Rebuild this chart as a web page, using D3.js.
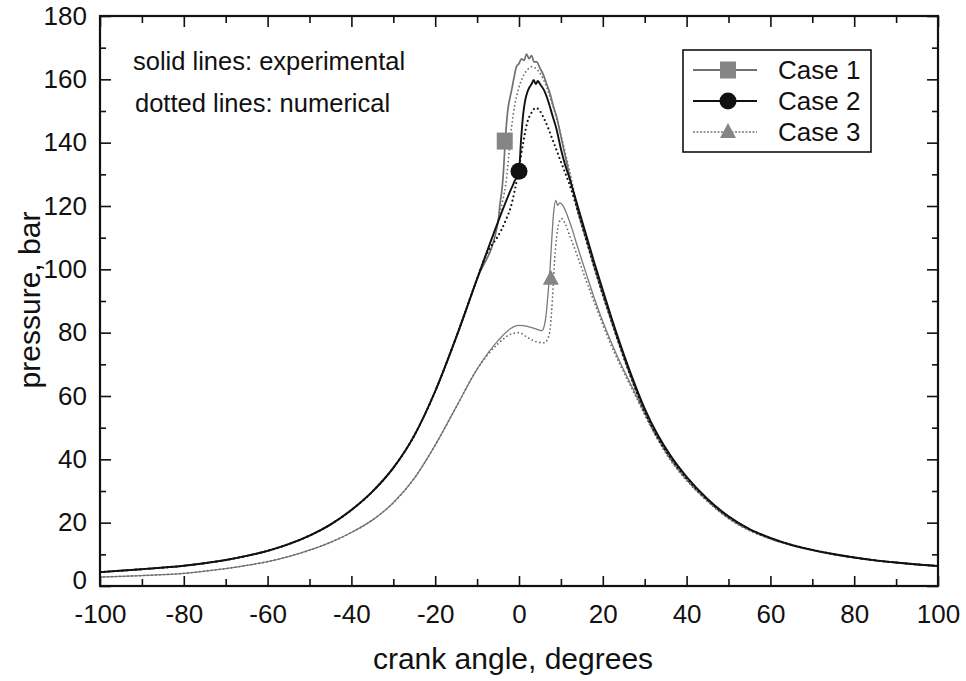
<!DOCTYPE html>
<html>
<head>
<meta charset="utf-8">
<script src="https://cdn.jsdelivr.net/npm/d3@7"></script>
<style>
body{margin:0;background:#fff;}
svg{display:block;font-family:"Liberation Sans",Arial,Helvetica,sans-serif;}
</style>
</head>
<body>
<div id="okvir"></div>
<script>
// ---- podaci (ocitani sa slike) ----
// kompresija, zajednicka za case 1 i case 2 (do -10 stupnjeva)
const kompresija12 = [[-100,4.4],[-90,5.3],[-80,6.4],[-75,7.2],[-70,8.2],[-65,9.5],[-60,11.1],[-55,13.2],[-50,15.9],[-45,19.4],[-40,24],[-35,29.8],[-30,37.3],[-25,47.5],[-20,61.5],[-15,78.5],[-10,97]];
// kompresija za case 3
const kompresija3 = [[-100,2.8],[-90,3.3],[-80,4.0],[-75,4.7],[-70,5.5],[-65,6.5],[-60,7.7],[-55,9.3],[-50,11.3],[-45,13.8],[-40,16.9],[-35,20.8],[-30,26.3],[-25,34],[-20,44.5],[-15,56.5],[-10,68.5]];

const case1Exp = [[-5,115],[-4.5,121],[-4,126],[-3.7,131],[-3.4,138],[-3.1,144],[-2.6,151],[-2.1,154.5],[-1.7,157],[-1.2,160.5],[-0.6,164],[0,165],[0.6,166.5],[1.2,166],[1.8,168],[2.4,166.5],[3,167.5],[3.6,165.5],[4.2,165.5],[5,163.5],[5.8,161.5],[6.6,158.5],[7.4,155.5],[8.2,151.5],[9,148],[10,142],[11,136],[12,130],[14,118.5],[16,109.5],[18,100.5],[20,92],[22,83.8],[24,76],[26,68.5],[28,61.5],[30,55.2],[33,47.5],[36,41],[40,34.2],[45,27.3],[50,21.9],[55,17.9],[60,15.1],[65,12.9],[70,11.3],[75,10],[80,9],[85,8.1],[90,7.4],[95,6.8],[100,6.3]];
const case1Num = [[-6,111.5],[-5,115.5],[-4,121],[-3,128.5],[-2.4,136.5],[-1.8,144.5],[-1,152],[0,157.5],[1,161],[2,163],[3,164],[4,163.5],[5,162],[6,159.5],[7,156],[8,152],[9,147.5],[10,142.5],[11,137],[12,131.5],[14,119.5],[16,110],[18,101],[20,92.5],[22,84.3],[24,76.5],[26,69],[28,62],[30,55.5],[33,47.7],[36,41.2],[40,34.3],[45,27.4],[50,22],[55,18],[60,15.1],[65,12.9],[70,11.3],[75,10],[80,9],[85,8.1],[90,7.4],[95,6.8],[100,6.3]];

const case2Exp = [[-5,115],[-2,125],[-1,128],[0,131],[0.5,141],[1,149],[1.5,153.5],[2,156],[2.5,157.5],[3,158.5],[3.5,159.8],[4,158.5],[4.5,159.5],[5,158.5],[6,156.5],[7,153],[8,148.5],[9,144],[10,138],[11,133],[12,129],[14,120],[16,111],[18,102],[20,93.5],[22,85],[24,77],[26,69.5],[28,62.5],[30,56],[33,48],[36,41.5],[40,34.5],[45,27.5],[50,22],[55,18],[60,15.2],[65,13],[70,11.4],[75,10.1],[80,9.0],[85,8.1],[90,7.4],[95,6.8],[100,6.3]];
const case2Num = [[-8,104],[-7,106.5],[-6,108.5],[-5,110.5],[-4,113],[-3,116],[-2,119.5],[-1,125],[0,132],[1,140],[2,146.5],[3,149.5],[4,151],[5,150],[6,147.5],[7,144.5],[8,141],[9,137.5],[10,134],[11,130.5],[12,127],[14,118.5],[16,109.5],[18,100.5],[20,92],[22,84],[24,76],[26,68.5],[28,61.5],[30,55],[33,47],[36,40.8],[40,34],[45,27.2],[50,21.8],[55,17.9],[60,15.1],[65,13],[70,11.4],[75,10.1],[80,9],[85,8.1],[90,7.4],[95,6.8],[100,6.3]];

const case3Exp = [[-5,77.5],[-2,81.3],[0,82.3],[2,82],[4,81.2],[5.4,80.6],[6,82],[6.5,86],[7,93.5],[7.4,100],[7.8,109],[8.2,117],[8.8,121.8],[9.2,120.2],[9.7,121],[10.4,120.3],[11.4,117.5],[12.6,113],[14,107],[16,98.8],[18,90.8],[20,83.5],[22,77],[24,71],[26,65.5],[28,60],[30,54.5],[33,46.8],[36,40.3],[40,33.5],[45,26.8],[50,21.4],[55,17.6],[60,14.9],[65,12.9],[70,11.3],[75,10],[80,9],[85,8.1],[90,7.4],[95,6.8],[100,6.3]];
const case3Num = [[-5,76.5],[-2,79.5],[0,80],[2,78.5],[4,77.2],[6,76.8],[7,78.5],[7.5,82],[8,91],[8.5,103],[9,110.5],[9.5,114.5],[10.2,116],[11,114.5],[12,111],[14,104],[16,96.5],[18,89.5],[20,82.5],[22,76],[24,70.2],[26,64.8],[28,59.5],[30,54],[33,46.5],[36,40],[40,33.3],[45,26.7],[50,21.3],[55,17.5],[60,14.9],[65,12.9],[70,11.3],[75,10],[80,9],[85,8.1],[90,7.4],[95,6.8],[100,6.3]];

// markeri na krivuljama
const markerKut = [-3.4, 0, 7.6];
const markerTlak = [140.5, 131, 97];
const legendaNazivi = ["Case 1", "Case 2", "Case 3"];

// oznake osi
const xGlavne = [-100,-80,-60,-40,-20,0,20,40,60,80,100];
const xSporedne = [-90,-70,-50,-30,-10,10,30,50,70,90];
const yGlavne = [0,20,40,60,80,100,120,140,160,180];
const ySporedne = [10,30,50,70,90,110,130,150,170];

function crtaj(){
    const xAccessor = d => d[0];
    const yAccessor = d => d[1];

    let dimenzije = {
        sirina: 966,
        visina: 681,
        margine: { top: 16, right: 28, bottom: 95, left: 100 }
    }
    dimenzije.grSirina = dimenzije.sirina - dimenzije.margine.left - dimenzije.margine.right
    dimenzije.grVisina = dimenzije.visina - dimenzije.margine.top - dimenzije.margine.bottom

    const okvir = d3.select("#okvir")
        .append("svg")
            .attr("width", dimenzije.sirina)
            .attr("height", dimenzije.visina)

    const granice = okvir.append("g")
        .attr("transform", `translate(${dimenzije.margine.left},${dimenzije.margine.top})`)

    const xSkala = d3.scaleLinear().domain([-100, 100]).range([0, dimenzije.grSirina])
    const ySkala = d3.scaleLinear().domain([0, 180]).range([dimenzije.grVisina, 0])

    const linija = d3.line()
        .x(d => xSkala(xAccessor(d)))
        .y(d => ySkala(yAccessor(d)))
        .curve(d3.curveMonotoneX)

    // serije: podaci + stil
    const serije = [
        { podaci: kompresija3.concat(case3Exp), boja: "#7a7a7a", sirina: 1.3, crtice: null },
        { podaci: kompresija3.concat(case3Num), boja: "#6a6a6a", sirina: 1.8, crtice: "0,4" },
        { podaci: kompresija12.concat(case1Num), boja: "#6a6a6a", sirina: 1.8, crtice: "0,4" },
        { podaci: kompresija12.concat(case1Exp), boja: "#707070", sirina: 1.7, crtice: null },
        { podaci: kompresija12.concat(case2Num), boja: "#111", sirina: 2.2, crtice: "0,4.5" },
        { podaci: kompresija12.concat(case2Exp), boja: "#111", sirina: 1.9, crtice: null }
    ]

    serije.forEach(s => {
        granice.append("path")
            .datum(s.podaci)
            .attr("d", linija)
            .attr("fill", "none")
            .attr("stroke", s.boja)
            .attr("stroke-width", s.sirina)
            .attr("stroke-linecap", "round")
            .attr("stroke-linejoin", "round")
            .attr("stroke-dasharray", s.crtice)
    })

    // markeri
    const crtajMarker = (g, i, cx, cy) => {
        if (i === 0) {
            g.append("rect").attr("x", cx - 8).attr("y", cy - 8.5).attr("width", 16).attr("height", 17)
                .attr("fill", "#858585")
        } else if (i === 1) {
            g.append("circle").attr("cx", cx).attr("cy", cy).attr("r", 8.5).attr("fill", "#111")
        } else {
            g.append("path")
                .attr("d", `M${cx},${cy - 9} L${cx + 8},${cy + 6} L${cx - 8},${cy + 6} Z`)
                .attr("fill", "#858585")
        }
    }
    markerKut.forEach((k, i) => crtajMarker(granice, i, xSkala(k), ySkala(markerTlak[i])))

    // osi
    const stilOsi = g => {
        g.select(".domain").remove()
        g.selectAll(".tick line").attr("stroke", "#111").attr("stroke-width", 1.6)
        g.selectAll(".tick text")
            .attr("fill", "#111")
            .style("font-size", "26px")
            .style("font-family", "'Liberation Sans', Arial, sans-serif")
    }

    granice.append("g")
        .attr("transform", `translate(0,${dimenzije.grVisina})`)
        .call(d3.axisBottom(xSkala).tickValues(xGlavne).tickSize(-10).tickPadding(19).tickFormat(d => String(d)))
        .call(stilOsi)
    granice.append("g")
        .attr("transform", `translate(0,${dimenzije.grVisina})`)
        .call(d3.axisBottom(xSkala).tickValues(xSporedne).tickSize(-7).tickFormat(""))
        .call(stilOsi)
    granice.append("g")
        .call(d3.axisTop(xSkala).tickValues(xGlavne).tickSize(-11).tickFormat(""))
        .call(stilOsi)
    granice.append("g")
        .call(d3.axisTop(xSkala).tickValues(xSporedne).tickSize(-7).tickFormat(""))
        .call(stilOsi)

    const yOs = granice.append("g")
        .call(d3.axisLeft(ySkala).tickValues(yGlavne).tickSize(-11).tickPadding(13).tickFormat(d => String(d)))
        .call(stilOsi)
    // nula malo gore, da se ne sudari s -100
    yOs.selectAll(".tick text").filter(d => d === 0).attr("dy", "0.1em")
    granice.append("g")
        .call(d3.axisLeft(ySkala).tickValues(ySporedne).tickSize(-6).tickFormat(""))
        .call(stilOsi)
    granice.append("g")
        .attr("transform", `translate(${dimenzije.grSirina},0)`)
        .call(d3.axisRight(ySkala).tickValues(yGlavne).tickSize(-11).tickFormat(""))
        .call(stilOsi)
    granice.append("g")
        .attr("transform", `translate(${dimenzije.grSirina},0)`)
        .call(d3.axisRight(ySkala).tickValues(ySporedne).tickSize(-6).tickFormat(""))
        .call(stilOsi)

    // okvir grafa
    granice.append("rect")
        .attr("width", dimenzije.grSirina)
        .attr("height", dimenzije.grVisina)
        .attr("fill", "none")
        .attr("stroke", "#111")
        .attr("stroke-width", 2.2)

    // natpisi osi
    okvir.append("text")
        .attr("x", 513)
        .attr("y", 669)
        .attr("text-anchor", "middle")
        .attr("fill", "#111")
        .style("font-size", "30px")
        .text("crank angle, degrees")

    okvir.append("text")
        .attr("transform", "translate(40,300) rotate(-90)")
        .attr("text-anchor", "middle")
        .attr("fill", "#111")
        .style("font-size", "30px")
        .text("pressure, bar")

    // biljeske
    granice.append("text")
        .attr("x", 33).attr("y", 70 - dimenzije.margine.top)
        .attr("fill", "#111").style("font-size", "25.5px")
        .text("solid lines: experimental")
    granice.append("text")
        .attr("x", 35).attr("y", 112 - dimenzije.margine.top)
        .attr("fill", "#111").style("font-size", "25.5px")
        .text("dotted lines: numerical")

    // legenda
    const legenda = okvir.append("g")
    legenda.append("rect")
        .attr("x", 683).attr("y", 50).attr("width", 188).attr("height", 102)
        .attr("fill", "#fff").attr("stroke", "#111").attr("stroke-width", 1.6)

    const legStil = [
        { boja: "#707070", sirina: 1.8, crtice: null },
        { boja: "#111", sirina: 1.8, crtice: null },
        { boja: "#7a7a7a", sirina: 1.6, crtice: "2,1.5" }
    ]
    const redovi = [70, 101, 132]
    legendaNazivi.forEach((naziv, i) => {
        legenda.append("line")
            .attr("x1", 693).attr("x2", 757)
            .attr("y1", redovi[i]).attr("y2", redovi[i])
            .attr("stroke", legStil[i].boja)
            .attr("stroke-width", legStil[i].sirina)
            .attr("stroke-dasharray", legStil[i].crtice)
        crtajMarker(legenda, i, 728, redovi[i])
        legenda.append("text")
            .attr("x", 778).attr("y", redovi[i])
            .attr("dy", "0.35em")
            .attr("fill", "#111")
            .style("font-size", "26px")
            .text(naziv)
    })
}

crtaj();
</script>
</body>
</html>
